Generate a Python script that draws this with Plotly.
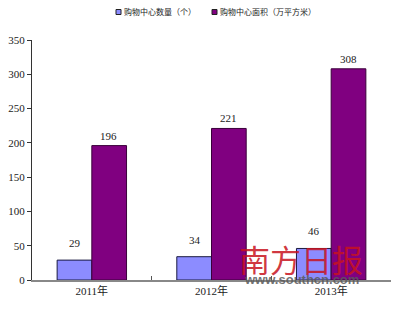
import plotly.graph_objects as go

categories = ["2011年", "2012年", "2013年"]
count_values = [29, 34, 46]
area_values = [196, 221, 308]
series_names = ["购物中心数量（个）", "购物中心面积（万平方米）"]
y_ticks = [0, 50, 100, 150, 200, 250, 300, 350]

font_fam = "Liberation Serif, Noto Sans CJK SC, serif"
colors = ["#8C8CFF", "#800080"]
edges = ["#1a1a40", "#3a003a"]

W, H = 400, 309
ML, MR, MT, MB = 32, 9, 40, 29
PW, PH = W - ML - MR, H - MT - MB

def px_x(px):
    return (px - ML) / PW

def px_y(py):
    return (H - MB - py) / PH

fig = go.Figure()
for vals, name, c, e in zip([count_values, area_values], series_names, colors, edges):
    fig.add_trace(go.Bar(
        x=categories, y=vals, name=name, showlegend=False,
        marker=dict(color=c, line=dict(color=e, width=1)),
    ))

# legend: small swatches + labels
legend_x = [116, 212]
for lx, name, c in zip(legend_x, series_names, colors):
    fig.add_shape(type="rect", xref="paper", yref="paper",
                  x0=px_x(lx), x1=px_x(lx + 5), y0=px_y(14.5), y1=px_y(9.5),
                  fillcolor=c, line=dict(color="#222", width=1))
    fig.add_annotation(xref="paper", yref="paper", x=px_x(lx + 6), y=px_y(12),
                       xanchor="left", yanchor="middle", text=name, showarrow=False,
                       font=dict(size=8, family="Noto Sans CJK SC", color="#222"))

# value labels
for cat, v in zip(categories, count_values):
    fig.add_annotation(x=cat, y=v, text=str(v), showarrow=False, xshift=-17,
                       yshift=17, font=dict(size=11, color="#222", family=font_fam))
for cat, v in zip(categories, area_values):
    fig.add_annotation(x=cat, y=v, text=str(v), showarrow=False, xshift=17,
                       yshift=10, font=dict(size=11, color="#222", family=font_fam))

fig.update_layout(
    width=W, height=H,
    margin=dict(l=ML, r=MR, t=MT, b=MB, autoexpand=False),
    paper_bgcolor="white", plot_bgcolor="white",
    barmode="group", bargap=0.42, bargroupgap=0,
    font=dict(family=font_fam, size=11, color="#222"),
    showlegend=False,
    xaxis=dict(showline=True, linecolor="#888", linewidth=1.5, ticks="inside",
               tickson="boundaries", ticklen=4, tickcolor="#555",
               tickfont=dict(size=11, family=font_fam), showgrid=False),
    yaxis=dict(range=[0, 350], tickvals=y_ticks, showline=True, linecolor="#333",
               linewidth=1, ticks="outside", ticklen=4, tickcolor="#333",
               showgrid=False, zeroline=False,
               tickfont=dict(size=11, family=font_fam)),
)

# watermark
fig.add_annotation(xref="paper", yref="paper", x=0.75, y=0.09, xanchor="center",
                   yanchor="middle", text="南方日报",
                   showarrow=False, font=dict(size=31, color="rgba(200,20,30,0.85)",
                   family="Noto Sans CJK SC"))
fig.add_annotation(xref="paper", yref="paper", x=0.75, y=0.003, xanchor="center",
                   yanchor="middle", text="<b>www.southcn.com</b>",
                   showarrow=False, font=dict(size=13, color="rgba(90,90,90,0.85)",
                   family="Liberation Sans"))

fig.write_html("out.html")
